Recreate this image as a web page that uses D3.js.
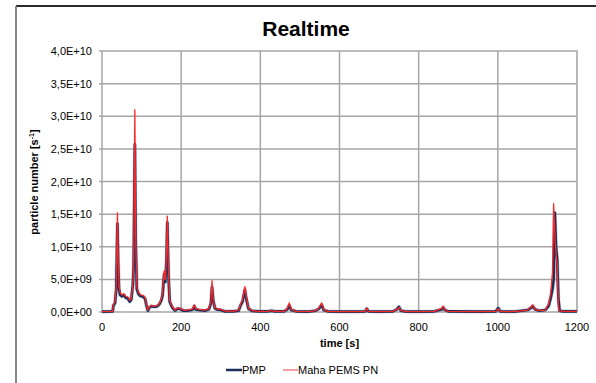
<!DOCTYPE html>
<html>
<head>
<meta charset="utf-8">
<script src="https://cdn.jsdelivr.net/npm/d3@7"></script>
<style>
  html, body { margin: 0; padding: 0; background: #fff; }
  svg { display: block; font-family: Arial, "Liberation Sans", sans-serif; }
</style>
</head>
<body>
<div id="chart"></div>
<script>
// time [s] shared by both series
var times = [0, 27, 29, 33, 36, 39, 41, 43, 46, 50, 55, 60, 65, 70, 74, 78, 80, 83, 85, 88,
  92, 96, 100, 105, 109, 112, 116, 120, 125, 130, 135, 140, 145, 150, 153, 157, 160, 163, 165, 168,
  171, 175, 180, 185, 190, 195, 200, 205, 215, 225, 230, 233, 237, 245, 260, 270, 275, 278, 281, 285,
  290, 300, 310, 330, 345, 350, 355, 361, 364, 370, 380, 400, 420, 428, 435, 460, 468, 473, 478, 490,
  520, 540, 548, 555, 560, 570, 600, 640, 665, 669, 673, 700, 735, 745, 750, 755, 770, 800, 840, 852,
  858, 862, 866, 875, 950, 995, 1001, 1006, 1040, 1075, 1083, 1088, 1094, 1105, 1120, 1128, 1133, 1138, 1141, 1144,
  1147, 1150, 1153, 1156, 1165, 1200];

// particle number, units of 1e9 s^-1
var pmpValues = [0.05, 0.1, 1.0, 1.4, 3.5, 13.5, 7, 3.5, 2.6, 2.4, 2.6, 2.2, 2.1, 1.6, 1.9, 4.2, 7, 25.7, 11, 3.5,
  2.8, 2.5, 2.4, 2.3, 2.0, 1.1, 0.2, 0.7, 0.9, 0.8, 0.8, 0.9, 1.2, 1.8, 2.6, 5.8, 4.6, 8, 13.7, 5.5,
  1.6, 1.0, 0.5, 0.2, 0.5, 0.5, 0.4, 0.2, 0.2, 0.3, 0.4, 0.9, 0.4, 0.3, 0.2, 0.4, 1.3, 3.8, 1.8, 0.6,
  0.4, 0.3, 0.1, 0.1, 0.2, 1.0, 1.6, 3.4, 2.2, 0.5, 0.15, 0.1, 0.1, 0.2, 0.1, 0.1, 0.4, 1.0, 0.3, 0.1,
  0.05, 0.2, 0.5, 1.1, 0.3, 0.1, 0.05, 0.05, 0.1, 0.5, 0.1, 0.05, 0.1, 0.4, 0.8, 0.2, 0.05, 0.05, 0.1, 0.3,
  0.4, 0.7, 0.3, 0.1, 0.05, 0.1, 0.6, 0.1, 0.05, 0.3, 0.6, 0.9, 0.4, 0.2, 0.3, 0.9, 2.0, 3.5, 5, 15.2,
  10, 8, 2, 0.2, 0.1, 0.1];

var pemsValues = [0.05, 0.1, 1.2, 1.5, 4, 15.2, 8, 4, 3, 2.6, 2.8, 2.4, 2.3, 1.8, 2.0, 4.5, 8, 31, 12, 4,
  3, 2.7, 2.6, 2.5, 2.2, 1.2, 0.3, 0.8, 1.0, 0.9, 0.9, 1.0, 1.3, 2.0, 3, 6.3, 5, 9, 14.7, 6,
  1.8, 1.2, 0.6, 0.3, 0.6, 0.6, 0.5, 0.3, 0.3, 0.4, 0.5, 1.1, 0.5, 0.4, 0.3, 0.5, 1.5, 4.8, 2.0, 0.7,
  0.5, 0.4, 0.15, 0.1, 0.3, 1.2, 1.8, 3.9, 2.5, 0.6, 0.2, 0.1, 0.1, 0.25, 0.1, 0.1, 0.5, 1.4, 0.4, 0.1,
  0.05, 0.2, 0.6, 1.4, 0.4, 0.1, 0.05, 0.05, 0.1, 0.6, 0.1, 0.05, 0.1, 0.4, 0.7, 0.2, 0.05, 0.05, 0.1, 0.4,
  0.5, 0.9, 0.3, 0.1, 0.05, 0.1, 0.5, 0.1, 0.05, 0.3, 0.7, 1.1, 0.4, 0.2, 0.3, 1.2, 2.6, 6, 16.6, 12,
  9, 7, 0.8, 0.2, 0.1, 0.1];

var xTicks = [0, 200, 400, 600, 800, 1000, 1200];
var yTicks = [0, 5, 10, 15, 20, 25, 30, 35, 40];
var yTickLabels = ['0,0E+00', '5,0E+09', '1,0E+10', '1,5E+10', '2,0E+10', '2,5E+10', '3,0E+10', '3,5E+10', '4,0E+10'];
var seriesNames = ['PMP', 'Maha PEMS PN'];

var W = 596, H = 383;
var PLOT_L = 102, PLOT_R = 577, PLOT_T = 51, PLOT_B = 312;
var PMP_COLOR = '#1b2f5a';
var PEMS_COLOR = '#ff2626';
var GRID_COLOR = '#a6a6a6';

var svg = d3.select('#chart').append('svg')
  .attr('width', W)
  .attr('height', H);

// outer chart frame (only top and left edges are visible in the crop)
svg.append('line')
  .attr('x1', 16).attr('x2', W).attr('y1', 6).attr('y2', 6)
  .attr('stroke', '#2a2a2a').attr('stroke-width', 1.8);
svg.append('line')
  .attr('x1', 16).attr('x2', 16).attr('y1', 6).attr('y2', H)
  .attr('stroke', '#7a7a7a').attr('stroke-width', 1.8);

var x = d3.scaleLinear().domain([0, 1200]).range([PLOT_L, PLOT_R]);
var y = d3.scaleLinear().domain([0, 40]).range([PLOT_B, PLOT_T]);

// grid
var grid = svg.append('g');
yTicks.forEach(function(v) {
  grid.append('line')
    .attr('x1', PLOT_L - 3).attr('x2', PLOT_R)
    .attr('y1', y(v)).attr('y2', y(v))
    .attr('stroke', GRID_COLOR).attr('stroke-width', 1.5);
});
xTicks.forEach(function(v) {
  grid.append('line')
    .attr('x1', x(v)).attr('x2', x(v))
    .attr('y1', PLOT_T).attr('y2', PLOT_B)
    .attr('stroke', GRID_COLOR).attr('stroke-width', 1.5);
});
svg.append('line')
  .attr('x1', PLOT_R).attr('x2', PLOT_R).attr('y1', PLOT_T - 0.75).attr('y2', PLOT_B)
  .attr('stroke', '#b8b8b8').attr('stroke-width', 2);

// tick labels
svg.append('g').selectAll('text')
  .data(yTicks)
  .join('text')
  .attr('x', 92)
  .attr('y', function(d) { return y(d) + 4; })
  .attr('text-anchor', 'end')
  .attr('font-size', '11px')
  .attr('fill', '#000')
  .text(function(d, i) { return yTickLabels[i]; });

svg.append('g').selectAll('text')
  .data(xTicks)
  .join('text')
  .attr('x', function(d) { return x(d); })
  .attr('y', 331)
  .attr('text-anchor', 'middle')
  .attr('font-size', '11px')
  .attr('fill', '#000')
  .text(function(d) { return d; });

// titles
svg.append('text')
  .attr('x', 306).attr('y', 36)
  .attr('text-anchor', 'middle')
  .attr('font-size', '21px')
  .attr('font-weight', 'bold')
  .text('Realtime');

svg.append('text')
  .attr('x', (PLOT_L + PLOT_R) / 2).attr('y', 347)
  .attr('text-anchor', 'middle')
  .attr('font-size', '11px')
  .attr('font-weight', 'bold')
  .text('time [s]');

var yTitle = svg.append('text')
  .attr('transform', 'translate(38,182) rotate(-90)')
  .attr('text-anchor', 'middle')
  .attr('font-size', '11px')
  .attr('font-weight', 'bold');
yTitle.append('tspan').text('particle number [s');
yTitle.append('tspan').attr('font-size', '7px').attr('dy', -4).text('-1');
yTitle.append('tspan').attr('dy', 4).text(']');

// series
var line = d3.line()
  .x(function(d) { return x(d[0]); })
  .y(function(d) { return y(d[1]); });

var pmpData = times.map(function(t, i) { return [t, pmpValues[i]]; });
var pemsData = times.map(function(t, i) { return [t, pemsValues[i]]; });

svg.append('path')
  .attr('d', line(pmpData))
  .attr('fill', 'none')
  .attr('stroke', '#8a98b0')
  .attr('stroke-opacity', 0.5)
  .attr('stroke-width', 3.8)
  .attr('stroke-linejoin', 'round');
svg.append('path')
  .attr('d', line(pmpData))
  .attr('fill', 'none')
  .attr('stroke', PMP_COLOR)
  .attr('stroke-width', 2.6)
  .attr('stroke-linejoin', 'round');
svg.append('path')
  .attr('d', line(pemsData))
  .attr('fill', 'none')
  .attr('stroke', PEMS_COLOR)
  .attr('stroke-width', 1.3)
  .attr('stroke-linejoin', 'round');

// legend
var legend = svg.append('g');
legend.append('line')
  .attr('x1', 226).attr('x2', 242).attr('y1', 370).attr('y2', 370)
  .attr('stroke', PMP_COLOR).attr('stroke-width', 2.5);
legend.append('text')
  .attr('x', 242).attr('y', 374)
  .attr('font-size', '11px')
  .text(seriesNames[0]);
legend.append('line')
  .attr('x1', 283).attr('x2', 298).attr('y1', 370).attr('y2', 370)
  .attr('stroke', '#f28080').attr('stroke-width', 1.5);
legend.append('text')
  .attr('x', 298).attr('y', 374)
  .attr('font-size', '11px')
  .text(seriesNames[1]);
</script>
</body>
</html>
